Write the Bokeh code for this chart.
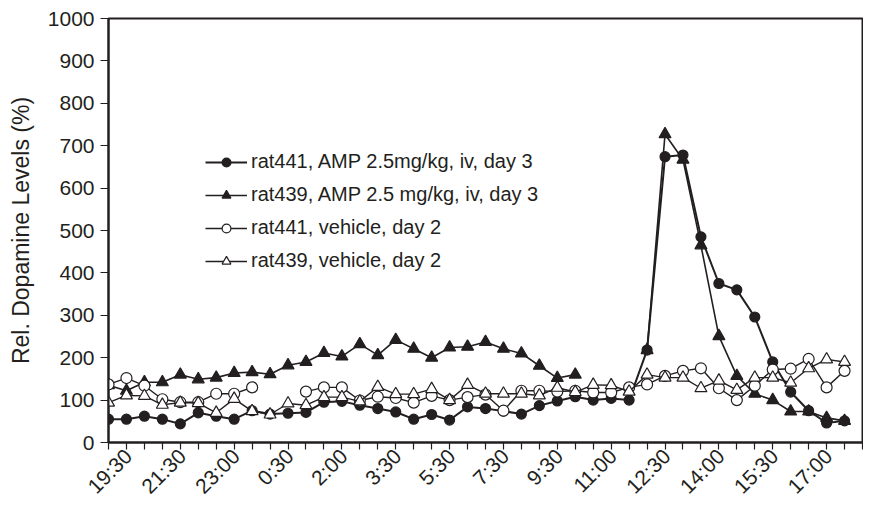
import math
from bokeh.plotting import figure
from bokeh.models import Range1d, FixedTicker, Legend, LegendItem, ColumnDataSource, LinearAxis
from bokeh.embed import file_html
from bokeh.resources import INLINE

nan = float("nan")

time_labels = ["19:30", "21:30", "23:00", "0:30", "2:00", "3:30", "5:30",
               "7:30", "9:30", "11:00", "12:30", "14:00", "15:30", "17:00"]

rat441_amp = [55, 55, 62, 55, 44, 70, 62, 55, 75, 67, 69, 71, 95, 97, 88, 80, 72, 55, 66, 53,
              84, 80, 74, 67, 87, 98, 108, 100, 104, 100, 218, 674, 678, 485, 375, 360, 296, 190,
              119, 75, 46, 51]
rat439_amp = [135, 122, 142, 142, 160, 149, 153, 164, 166, 161, 182, 190, 211, 203, 232, 206, 242,
              221, 200, 224, 226, 237, 221, 210, 181, 152, 160, nan, nan, nan, 218, 727, 667, 465,
              251, 157, 115, 100, 73, 73, 58, 51]
rat441_veh = [137, 152, 134, 102, 95, 95, 115, 115, 130, nan, nan, 120, 130, 130, 99, 108, 105, 94,
              110, 100, 107, 113, 75, 122, 122, 120, 122, 118, 118, 130, 137, 157, 169, 175, 128,
              100, 134, 172, 174, 197, 130, 169]
rat439_veh = [94, 111, 110, 89, 94, 93, 70, 103, 74, 66, 92, 88, 107, 107, 97, 131, 114, 114, 126,
              100, 136, 115, 115, 115, 111, 129, 119, 136, 135, 120, 160, 153, 153, 128, 146, 124,
              153, 153, 141, 175, 196, 190]

labels = ["rat441, AMP 2.5mg/kg, iv, day 3",
          "rat439, AMP 2.5 mg/kg, iv, day 3",
          "rat441, vehicle, day 2",
          "rat439, vehicle, day 2"]

n = len(rat441_amp)
xs = list(range(n))

INK = "#231f20"
FONT = "Liberation Sans"
LABEL_SHIFT = 1.1  # rotated labels centred under their tick

p = figure(width=863, height=508, output_backend="svg", toolbar_location=None,
           x_range=Range1d(0, n), y_range=Range1d(0, 1000),
           min_border_left=108, min_border_right=1, min_border_top=18, min_border_bottom=58)
p.extra_x_ranges = {"lab": Range1d(-LABEL_SHIFT, n - LABEL_SHIFT)}
p.background_fill_color = "white"
p.border_fill_color = "white"
p.grid.visible = False
p.outline_line_color = INK
p.outline_line_width = 2

# x axis: tick marks only
xticks = list(range(0, n + 1))
p.xaxis.ticker = FixedTicker(ticks=xticks)
p.xaxis.major_label_overrides = {t: "" for t in xticks}
p.xaxis.major_label_text_font_size = "1px"
p.xaxis.major_label_standoff = 0
p.xaxis.major_tick_out = 7
p.xaxis.major_tick_in = 0
p.xaxis.minor_tick_line_color = None
p.xaxis.axis_line_width = 2
p.xaxis.axis_line_color = INK
p.xaxis.major_tick_line_color = INK
p.xaxis.major_tick_line_width = 1.2

# x axis: rotated time labels
lab_ticks = [3 * k for k in range(len(time_labels))]
lab_axis = LinearAxis(x_range_name="lab", ticker=FixedTicker(ticks=lab_ticks),
                      major_label_overrides={t: s for t, s in zip(lab_ticks, time_labels)},
                      axis_line_color=None, major_tick_line_color=None,
                      minor_tick_line_color=None, major_tick_out=0, major_tick_in=0,
                      major_label_orientation=math.pi / 4, major_label_standoff=3,
                      major_label_text_font=FONT, major_label_text_font_size="21px",
                      major_label_text_color=INK)
p.add_layout(lab_axis, "below")

# y axis
p.yaxis.ticker = FixedTicker(ticks=list(range(0, 1001, 100)))
p.yaxis.major_tick_out = 8
p.yaxis.major_tick_in = 0
p.yaxis.minor_tick_line_color = None
p.yaxis.axis_line_width = 2
p.yaxis.axis_line_color = INK
p.yaxis.major_tick_line_color = INK
p.yaxis.major_tick_line_width = 1.2
p.yaxis.major_label_text_font = FONT
p.yaxis.major_label_text_font_size = "21px"
p.yaxis.major_label_text_color = INK
p.yaxis.major_label_standoff = 6
p.yaxis.axis_label = "Rel. Dopamine Levels (%)"
p.yaxis.axis_label_text_font = FONT
p.yaxis.axis_label_text_font_size = "23px"
p.yaxis.axis_label_text_font_style = "normal"
p.yaxis.axis_label_text_color = INK
p.yaxis.axis_label_standoff = 11

series = [
    (rat441_amp, "circle", INK, 10, 2.0),
    (rat439_amp, "triangle", INK, 12, 1.6),
    (rat441_veh, "circle", "white", 11, 1.4),
    (rat439_veh, "triangle", "white", 12, 1.4),
]
draw_order = [1, 0, 2, 3]

rend = {}
for i in draw_order:
    vals, marker, fill, size, lw = series[i]
    src = ColumnDataSource(data=dict(x=xs, y=vals))
    lr = p.line("x", "y", source=src, line_color=INK, line_width=lw)
    sr = p.scatter("x", "y", source=src, marker=marker, size=size,
                   fill_color=fill, line_color=INK, line_width=1.2)
    rend[i] = (lr, sr)

items = [LegendItem(label=labels[i], renderers=list(rend[i])) for i in range(4)]

legend = Legend(items=items, location=(97, 170))
legend.label_text_font = FONT
legend.label_text_font_size = "20px"
legend.label_text_color = INK
legend.glyph_width = 42
legend.glyph_height = 22
legend.label_height = 22
legend.spacing = 10
legend.padding = 0
legend.margin = 0
legend.label_standoff = 4
legend.border_line_color = None
legend.background_fill_alpha = 0
p.add_layout(legend, "center")

open("out.html", "w").write(file_html(p, INLINE))
